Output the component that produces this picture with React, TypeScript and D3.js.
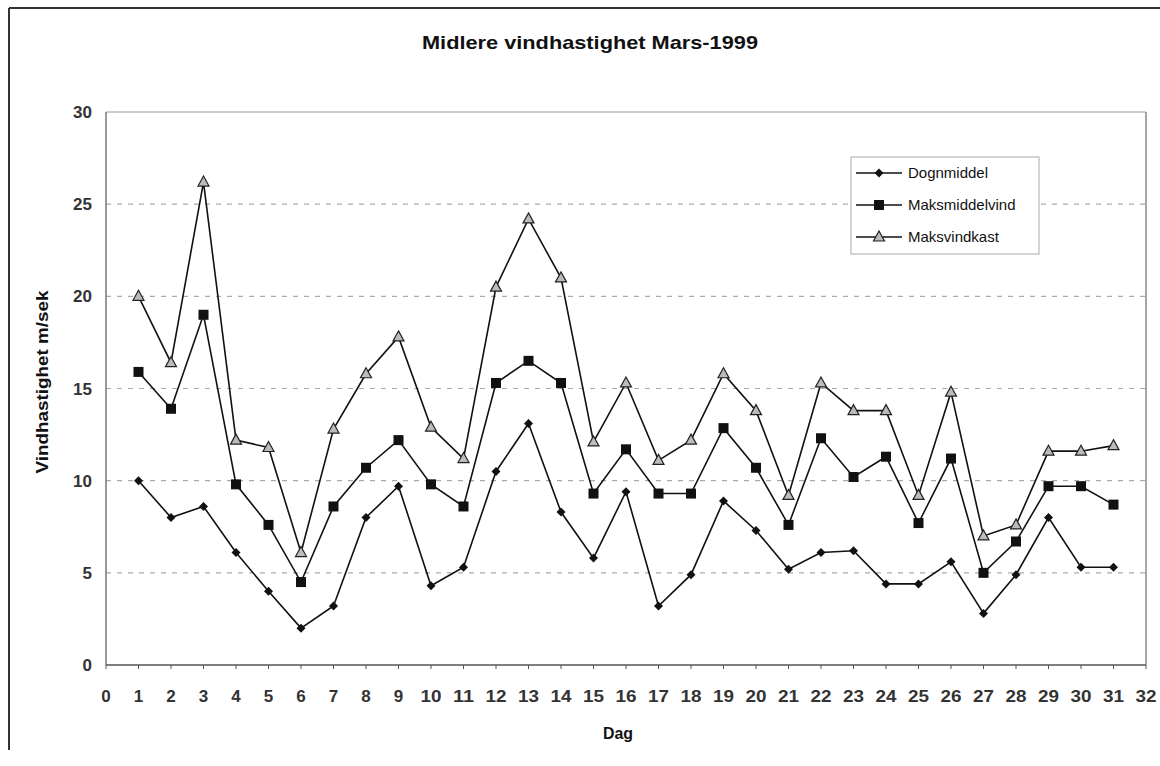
import React from "react";
import * as d3 from "d3";

const days = d3.range(1, 32);
const dognmiddel = [10, 8.0, 8.6, 6.1, 4.0, 2.0, 3.2, 8.0, 9.7, 4.3, 5.3, 10.5, 13.1, 8.3, 5.8, 9.4, 3.2, 4.9, 8.9, 7.3, 5.2, 6.1, 6.2, 4.4, 4.4, 5.6, 2.8, 4.9, 8.0, 5.3, 5.3];
const maksmiddelvind = [15.9, 13.9, 19.0, 9.8, 7.6, 4.5, 8.6, 10.7, 12.2, 9.8, 8.6, 15.3, 16.5, 15.3, 9.3, 11.7, 9.3, 9.3, 12.85, 10.7, 7.6, 12.3, 10.2, 11.3, 7.7, 11.2, 5.0, 6.7, 9.7, 9.7, 8.7];
const maksvindkast = [20.0, 16.4, 26.2, 12.2, 11.8, 6.1, 12.8, 15.8, 17.8, 12.9, 11.2, 20.5, 24.2, 21.0, 12.1, 15.3, 11.1, 12.2, 15.8, 13.8, 9.2, 15.3, 13.8, 13.8, 9.2, 14.8, 7.0, 7.6, 11.6, 11.6, 11.9];
const seriesNames = ["Dognmiddel", "Maksmiddelvind", "Maksvindkast"];
const xTicks = d3.range(0, 33);
const yTicks = [0, 5, 10, 15, 20, 25, 30];

const W = 1160, H = 766;
const L = 106, R = 1146, T = 112, B = 665;
const font = "'Liberation Sans', Arial, sans-serif";

function Marker({ kind, x, y }: { kind: number; x: number; y: number }) {
  if (kind === 0) {
    const s = 4.5;
    return <path d={`M${x},${y - s}L${x + s},${y}L${x},${y + s}L${x - s},${y}Z`} fill="#111" />;
  }
  if (kind === 1) {
    return <rect x={x - 5} y={y - 5} width={10} height={10} fill="#111" />;
  }
  return <path d={`M${x},${y - 6}L${x + 5.5},${y + 4}L${x - 5.5},${y + 4}Z`} fill="#bbb" stroke="#222" strokeWidth={1.2} />;
}

export default function App() {
  const x = d3.scaleLinear().domain([0, 32]).range([L, R]);
  const y = d3.scaleLinear().domain([0, 30]).range([B, T]);
  const data = [dognmiddel, maksmiddelvind, maksvindkast];
  const line = d3.line<number>().x((_, i) => x(days[i])).y((d) => y(d));

  return (
    <svg width={W} height={H} style={{ position: "absolute", left: 0, top: 0, background: "#fff" }} fontFamily={font}>
      <rect x={0} y={0} width={W} height={H} fill="#fff" />
      {/* outer frame */}
      <line x1={9} y1={8} x2={1160} y2={8} stroke="#333" strokeWidth={2} />
      <line x1={9} y1={8} x2={9} y2={750} stroke="#333" strokeWidth={2} />

      <text x={590} y={49} textAnchor="middle" fontSize={19} fontWeight="bold" fill="#111" textLength={336} lengthAdjust="spacingAndGlyphs">Midlere vindhastighet Mars-1999</text>

      {/* gridlines */}
      {yTicks.filter((t) => t > 0 && t < 30).map((t) => (
        <line key={t} x1={L} x2={R} y1={y(t)} y2={y(t)} stroke="#aaa" strokeWidth={1.2} strokeDasharray="5,6" />
      ))}
      {/* plot border */}
      <line x1={L} x2={R} y1={T} y2={T} stroke="#999" strokeWidth={1.2} />
      <line x1={R} x2={R} y1={T} y2={B} stroke="#888" strokeWidth={1.5} />
      <line x1={L} x2={L} y1={T} y2={B} stroke="#777" strokeWidth={1.5} />
      <line x1={L} x2={R} y1={B} y2={B} stroke="#555" strokeWidth={1.5} />
      {xTicks.map((t) => (
        <line key={t} x1={x(t)} x2={x(t)} y1={B} y2={B + 4} stroke="#555" strokeWidth={1} />
      ))}

      {/* y tick labels */}
      {yTicks.map((t) => (
        <text key={t} x={92} y={y(t) + 6} textAnchor="end" fontSize={17} fontWeight="bold" fill="#333">{t}</text>
      ))}
      {/* x tick labels */}
      {xTicks.map((t) => (
        <text key={t} x={x(t)} y={702} textAnchor="middle" fontSize={17} fontWeight="bold" fill="#333" {...(t >= 10 ? { textLength: 21, lengthAdjust: "spacingAndGlyphs" } : {})}>{t}</text>
      ))}

      <text x={618} y={739} textAnchor="middle" fontSize={17} fontWeight="bold" fill="#111" textLength={30} lengthAdjust="spacingAndGlyphs">Dag</text>
      <text transform={`translate(48,382) rotate(-90)`} textAnchor="middle" fontSize={17} fontWeight="bold" fill="#111" textLength={183} lengthAdjust="spacingAndGlyphs">Vindhastighet m/sek</text>

      {/* series */}
      {data.map((vals, k) => (
        <g key={k}>
          <path d={line(vals) || ""} fill="none" stroke="#111" strokeWidth={1.6} />
          {vals.map((v, i) => (
            <Marker key={i} kind={k} x={x(days[i])} y={y(v)} />
          ))}
        </g>
      ))}

      {/* legend */}
      <rect x={851} y={157} width={188} height={97} fill="#fff" stroke="#aaa" strokeWidth={1} />
      {seriesNames.map((n, k) => {
        const ly = 173 + k * 32;
        return (
          <g key={n}>
            <line x1={856} x2={902} y1={ly} y2={ly} stroke="#111" strokeWidth={1.6} />
            <Marker kind={k} x={879} y={ly} />
            <text x={908} y={ly + 5} fontSize={15} fill="#111">{n}</text>
          </g>
        );
      })}
    </svg>
  );
}
